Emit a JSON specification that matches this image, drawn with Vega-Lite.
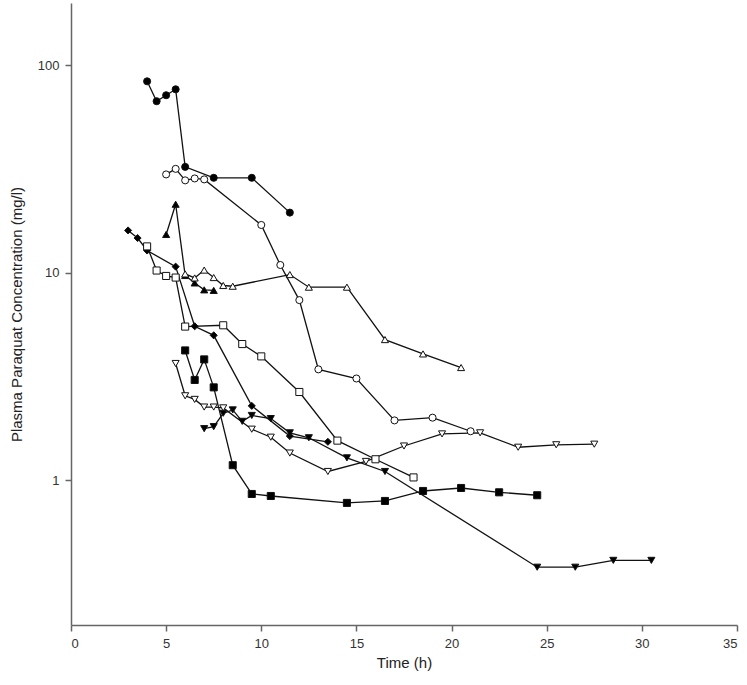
{
  "$schema": "https://vega.github.io/schema/vega-lite/v6.json",
  "autosize": "none",
  "width": 666,
  "height": 622,
  "padding": {"left": 71, "top": 3, "right": 10, "bottom": 60},
  "background": "white",
  "config": {
    "view": {"stroke": null},
    "axis": {
      "domainColor": "#666",
      "tickColor": "#666",
      "labelFont": "Liberation Sans",
      "labelFontSize": 13,
      "labelColor": "#333",
      "titleFont": "Liberation Sans",
      "titleFontSize": 15,
      "titleFontWeight": "normal",
      "titleColor": "#222",
      "grid": false,
      "tickSize": 6,
      "domainWidth": 1.5,
      "tickWidth": 1.5
    }
  },
  "data": {"values": [
    {"s":"A","t":4,"c":83.8},{"s":"A","t":4.5,"c":67.2},{"s":"A","t":5,"c":71.8},{"s":"A","t":5.5,"c":76.7},{"s":"A","t":6,"c":32.4},{"s":"A","t":7.5,"c":28.7},{"s":"A","t":9.5,"c":28.7},{"s":"A","t":11.5,"c":19.5},
    {"s":"B","t":5,"c":29.8},{"s":"B","t":5.5,"c":31.7},{"s":"B","t":6,"c":27.9},{"s":"B","t":6.5,"c":28.5},{"s":"B","t":7,"c":28.2},{"s":"B","t":10,"c":17.0},{"s":"B","t":11,"c":10.9},{"s":"B","t":12,"c":7.38},{"s":"B","t":13,"c":3.42},{"s":"B","t":15,"c":3.09},{"s":"B","t":17,"c":1.94},{"s":"B","t":19,"c":2.0},{"s":"B","t":21,"c":1.72},
    {"s":"C","t":5,"c":15.3},{"s":"C","t":5.5,"c":21.4},{"s":"C","t":6,"c":9.7},{"s":"C","t":6.5,"c":8.93},{"s":"C","t":7,"c":8.27},{"s":"C","t":7.5,"c":8.22},
    {"s":"D","t":6,"c":9.87},{"s":"D","t":6.5,"c":9.44},{"s":"D","t":7,"c":10.3},{"s":"D","t":7.5,"c":9.48},{"s":"D","t":8,"c":8.68},{"s":"D","t":8.5,"c":8.61},{"s":"D","t":11.5,"c":9.8},{"s":"D","t":12.5,"c":8.52},{"s":"D","t":14.5,"c":8.52},{"s":"D","t":16.5,"c":4.76},{"s":"D","t":18.5,"c":4.06},{"s":"D","t":20.5,"c":3.49},
    {"s":"E","t":3,"c":16.0},{"s":"E","t":3.5,"c":14.7},{"s":"E","t":4,"c":12.8},{"s":"E","t":5.5,"c":10.7},{"s":"E","t":6.5,"c":5.52},{"s":"E","t":7.5,"c":4.99},{"s":"E","t":9.5,"c":2.28},{"s":"E","t":11.5,"c":1.63},{"s":"E","t":13.5,"c":1.53},
    {"s":"F","t":4,"c":13.4},{"s":"F","t":4.5,"c":10.25},{"s":"F","t":5,"c":9.65},{"s":"F","t":5.5,"c":9.48},{"s":"F","t":6,"c":5.5},{"s":"F","t":8,"c":5.58},{"s":"F","t":9,"c":4.53},{"s":"F","t":10,"c":3.95},{"s":"F","t":12,"c":2.66},{"s":"F","t":14,"c":1.55},{"s":"F","t":16,"c":1.26},{"s":"F","t":18,"c":1.03},
    {"s":"G","t":6,"c":4.22},{"s":"G","t":6.5,"c":3.04},{"s":"G","t":7,"c":3.82},{"s":"G","t":7.5,"c":2.8},{"s":"G","t":8.5,"c":1.18},{"s":"G","t":9.5,"c":0.857},{"s":"G","t":10.5,"c":0.838},{"s":"G","t":14.5,"c":0.776},{"s":"G","t":16.5,"c":0.793},{"s":"G","t":18.5,"c":0.886},{"s":"G","t":20.5,"c":0.916},{"s":"G","t":22.5,"c":0.873},{"s":"G","t":24.5,"c":0.845},
    {"s":"H","t":7,"c":1.77},{"s":"H","t":7.5,"c":1.81},{"s":"H","t":8,"c":2.1},{"s":"H","t":8.5,"c":2.18},{"s":"H","t":9,"c":1.92},{"s":"H","t":9.5,"c":2.05},{"s":"H","t":10.5,"c":1.98},{"s":"H","t":11.5,"c":1.69},{"s":"H","t":12.5,"c":1.6},{"s":"H","t":14.5,"c":1.28},{"s":"H","t":16.5,"c":1.1},{"s":"H","t":24.5,"c":0.38},{"s":"H","t":26.5,"c":0.38},{"s":"H","t":28.5,"c":0.41},{"s":"H","t":30.5,"c":0.41},
    {"s":"I","t":5.5,"c":3.65},{"s":"I","t":6,"c":2.55},{"s":"I","t":6.5,"c":2.45},{"s":"I","t":7,"c":2.25},{"s":"I","t":7.5,"c":2.25},{"s":"I","t":8,"c":2.23},{"s":"I","t":9.5,"c":1.76},{"s":"I","t":10.5,"c":1.61},{"s":"I","t":11.5,"c":1.35},{"s":"I","t":13.5,"c":1.1},{"s":"I","t":15.5,"c":1.23},{"s":"I","t":17.5,"c":1.46},{"s":"I","t":19.5,"c":1.67},{"s":"I","t":21.5,"c":1.69},{"s":"I","t":23.5,"c":1.44},{"s":"I","t":25.5,"c":1.48},{"s":"I","t":27.5,"c":1.49}
  ]},
  "encoding": {
    "x": {"field": "t", "type": "quantitative",
          "scale": {"domain": [0, 35], "nice": false, "zero": false},
          "axis": {"title": "Time (h)", "values": [0,5,10,15,20,25,30,35], "labelPadding": 6, "titlePadding": 5}},
    "y": {"field": "c", "type": "quantitative",
          "scale": {"type": "log", "domain": [0.2, 200], "nice": false},
          "axis": {"title": "Plasma Paraquat Concentration (mg/l)", "values": [1, 10, 100], "format": "d", "labelPadding": 6, "titlePadding": 13}}
  },
  "layer": [
    {
      "mark": {"type": "line", "color": "#111", "strokeWidth": 1.3},
      "encoding": {"detail": {"field": "s"}, "order": {"field": "t"}}
    },
    {
      "mark": {"type": "point", "filled": true, "stroke": "#111", "strokeWidth": 1, "opacity": 1},
      "encoding": {
        "shape": {"field": "s", "type": "nominal", "legend": null,
                  "scale": {"domain": ["A","B","C","D","E","F","G","H","I"],
                            "range": ["circle","circle","triangle-up","triangle-up","diamond","square","square","triangle-down","triangle-down"]}},
        "fill": {"field": "s", "type": "nominal", "legend": null,
                 "scale": {"domain": ["A","B","C","D","E","F","G","H","I"],
                           "range": ["#000","#fff","#000","#fff","#000","#fff","#000","#000","#fff"]}},
        "size": {"field": "s", "type": "nominal", "legend": null,
                 "scale": {"domain": ["A","B","C","D","E","F","G","H","I"],
                           "range": [50, 50, 50, 50, 62, 48, 48, 50, 50]}}
      }
    }
  ]
}
